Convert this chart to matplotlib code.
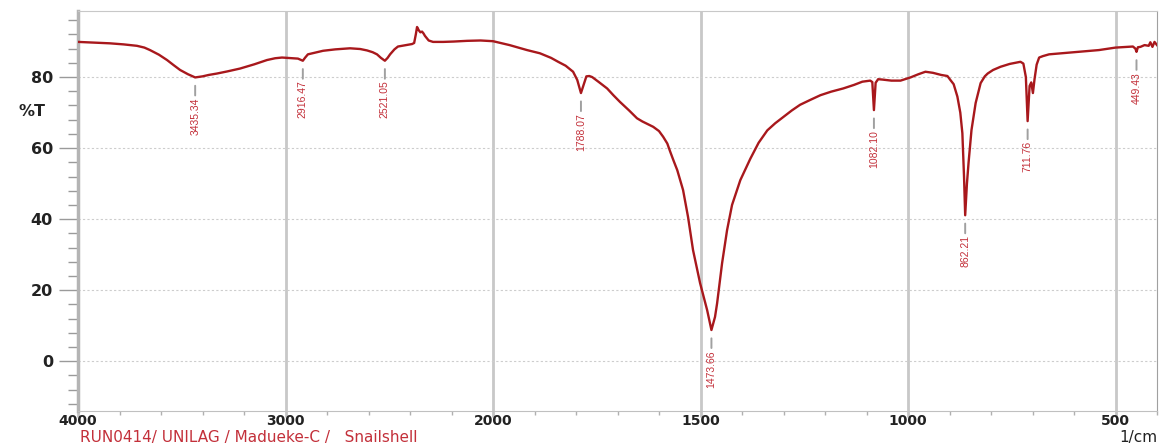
import numpy as np
import matplotlib.pyplot as plt

# FTIR spectrum of snail shell powder (%T against wavenumber, 1/cm)
wavenumber = [4000, 3920, 3846, 3780, 3716, 3680, 3653, 3610, 3571, 3540, 3508, 3470,
              3435.34, 3400, 3370, 3330, 3280, 3219, 3150, 3089, 3050, 3017, 2990, 2964,
              2940, 2916.47, 2905, 2892, 2870, 2843, 2819, 2760, 2689, 2640, 2607, 2580,
              2559, 2540, 2521.05, 2508, 2496, 2475, 2458, 2420, 2390, 2380, 2372, 2366,
              2358, 2350, 2342, 2335, 2328, 2310, 2289, 2240, 2190, 2125, 2060, 2000,
              1960, 1918, 1887, 1860, 1843, 1825, 1807, 1797, 1788.07, 1781, 1775, 1768,
              1761, 1745, 1725, 1710, 1694, 1672, 1653, 1640, 1614, 1600, 1590, 1580,
              1573, 1565, 1556, 1542, 1530, 1518, 1501, 1484, 1473.66, 1465, 1460, 1448,
              1436, 1424, 1404, 1380, 1360, 1339, 1320, 1300, 1280, 1260, 1235, 1211,
              1185, 1156, 1130, 1110, 1091, 1086, 1082.10, 1078, 1072, 1062, 1040, 1018,
              994, 975, 958, 940, 920, 905, 898, 890, 881, 874, 869, 865,
              862.21, 858, 854, 847, 837, 825, 815, 808, 795, 777, 755, 729,
              722, 716, 711.76, 707, 703, 699, 695, 690, 684, 675, 660, 620,
              580, 540, 500, 470, 458, 452, 449.43, 446, 440, 430, 420, 416,
              411, 406, 400]
transmittance = [89.9, 89.7, 89.5, 89.2, 88.8, 88.3, 87.6, 86.3, 84.8, 83.4, 82.0, 80.8,
                 79.9, 80.2, 80.6, 81.0, 81.6, 82.4, 83.6, 84.8, 85.3, 85.5, 85.4, 85.3,
                 85.2, 84.6, 85.5, 86.4, 86.7, 87.1, 87.4, 87.8, 88.1, 87.9, 87.5, 87.0,
                 86.4, 85.4, 84.6, 85.4, 86.4, 87.8, 88.6, 89.0, 89.3, 89.6, 92.0, 94.1,
                 93.2, 92.6, 92.8, 92.3, 91.6, 90.3, 89.9, 89.9, 90.0, 90.2, 90.3, 90.1,
                 89.0, 87.6, 86.7, 85.4, 84.3, 83.2, 81.5, 79.2, 75.5, 78.0, 80.2, 80.3,
                 80.0, 78.6, 76.8, 74.9, 73.0, 70.6, 68.4, 67.5, 66.0, 64.8, 63.2, 61.3,
                 59.0, 56.5, 53.8, 48.2, 40.6, 31.3, 22.0, 14.4, 8.8, 12.5, 16.3, 27.6,
                 36.9, 44.0, 51.0, 57.0, 61.5, 65.0, 67.0, 68.8, 70.6, 72.2, 73.6, 74.9,
                 75.9, 76.8, 77.8, 78.7, 79.0, 78.6, 70.7, 78.4, 79.4, 79.3, 79.0, 79.0,
                 79.9, 80.8, 81.5, 81.2, 80.6, 80.3, 79.2, 78.0, 74.5, 70.0, 64.2, 52.0,
                 41.1, 50.0, 56.0, 65.1, 72.7, 78.3, 80.2, 81.0, 82.0, 82.9, 83.7, 84.3,
                 83.8, 80.0, 67.6, 77.5, 78.5, 75.5, 79.5, 83.5, 85.5, 85.9, 86.4, 86.8,
                 87.2, 87.6, 88.3, 88.5, 88.6, 88.0, 87.1, 88.4, 88.5, 89.0, 88.8, 89.8,
                 88.5, 89.9, 89.0]

peak_wn = [3435.34, 2916.47, 2521.05, 1788.07, 1473.66, 1082.10, 862.21, 711.76, 449.43]
peak_labels = ['3435.34', '2916.47', '2521.05', '1788.07', '1473.66',
               '1082.10', '862.21', '711.76', '449.43']

x_major = [4000, 3000, 2000, 1500, 1000, 500]
x_minor = [3800, 3600, 3400, 3200, 2800, 2600, 2400, 2200,
           1900, 1800, 1700, 1600, 1400, 1300, 1200, 1100,
           900, 800, 700, 600, 400]
y_major = [0, 20, 40, 60, 80]
y_minor = [-12, -8, -4, 4, 8, 12, 16, 24, 28, 32, 36, 44, 48, 52, 56,
           64, 68, 72, 76, 84, 88, 92, 96]

red_text = '#c3303a'
line_red = '#a8181c'


# wavenumber axis is compressed 2:1 above 2000 1/cm
def fwd(w):
    w = np.asarray(w, dtype=float)
    return np.where(w > 2000, 2000 + (w - 2000) / 2, w)


def inv(v):
    v = np.asarray(v, dtype=float)
    return np.where(v > 2000, 2000 + (v - 2000) * 2, v)


fig = plt.figure(figsize=(11.6, 4.46), dpi=100)
ax = fig.add_axes([78 / 1160, 1 - 411 / 446, (1157 - 78) / 1160, (411 - 11) / 446])
ax.set_xscale('function', functions=(fwd, inv))
ax.set_xlim(4000, 400)
ax.set_ylim(-14.0, 98.6)

ax.plot(wavenumber, transmittance, color=line_red, lw=1.7, solid_joinstyle='round', zorder=3)

# peak markers and rotated wavenumber labels
for w, lab in zip(peak_wn, peak_labels):
    t = transmittance[wavenumber.index(w)]
    ax.annotate('', xy=(w, t), xytext=(0, -18), textcoords='offset pixels',
                arrowprops=dict(arrowstyle='-', color='#a0a0a0', lw=1.4,
                                shrinkA=0, shrinkB=6))
    ax.annotate(lab, xy=(w, t), xytext=(0, -20), textcoords='offset pixels',
                rotation=90, ha='center', va='top', color=red_text, fontsize=7.5,
                family=['Liberation Sans Narrow', 'Liberation Sans', 'DejaVu Sans'])

ax.set_xticks(x_major)
ax.set_xticks(x_minor, minor=True)
ax.set_xticklabels([str(v) for v in x_major])
ax.set_yticks(y_major)
ax.set_yticks(y_minor, minor=True)
ax.set_yticklabels([str(v) for v in y_major])

ax.tick_params(axis='x', which='major', length=4, width=2, color='#c4c4c4', pad=-2,
               labelsize=10, labelcolor='#222222')
ax.tick_params(axis='x', which='minor', length=3, width=1, color='#b0b0b0')
ax.tick_params(axis='y', which='major', length=14, width=1, color='#9a9a9a', pad=4,
               labelsize=11.5, labelcolor='#222222')
ax.tick_params(axis='y', which='minor', length=7, width=1, color='#9a9a9a')
for lab in ax.get_xticklabels() + ax.get_yticklabels():
    lab.set_fontweight('bold')

ax.grid(axis='x', which='major', color='#c8c8c8', lw=2, ls='-')
ax.grid(axis='y', which='major', color='#cdcdcd', lw=0.8, ls=(0, (2, 2)))
ax.set_axisbelow(True)

ax.spines['left'].set_color('#b4b4b4')
ax.spines['left'].set_linewidth(2.5)
ax.spines['bottom'].set_color('#c0c0c0')
ax.spines['top'].set_color('#c8c8c8')
ax.spines['right'].set_color('#a0a0a0')

fig.text(32 / 1160, 1 - 112 / 446, '%T', ha='center', va='center',
         fontsize=11.5, fontweight='bold', color='#222222')
fig.text(80 / 1160, 0.002, 'RUN0414/ UNILAG / Madueke-C /   Snailshell',
         ha='left', va='bottom', fontsize=11, color=red_text)
fig.text(1157 / 1160, 0.002, '1/cm', ha='right', va='bottom',
         fontsize=11, color='#222222')

fig.savefig('out.png', dpi=100)
